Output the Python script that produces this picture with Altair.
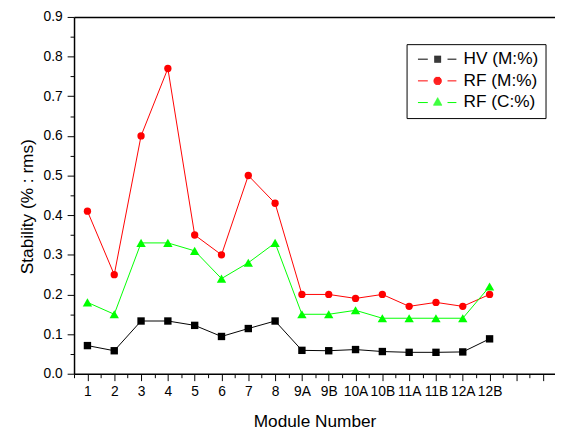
import math
import altair as alt
import pandas as pd

modules = ["1", "2", "3", "4", "5", "6", "7", "8", "9A", "9B",
           "10A", "10B", "11A", "11B", "12A", "12B"]
series_names = ["HV (M:%)", "RF (M:%)", "RF (C:%)"]
hv = [0.071, 0.058, 0.133, 0.133, 0.122, 0.094, 0.114, 0.133,
      0.059, 0.058, 0.061, 0.056, 0.054, 0.054, 0.055, 0.088]
rf_m = [0.41, 0.25, 0.60, 0.77, 0.35, 0.30, 0.50, 0.43,
        0.20, 0.20, 0.19, 0.20, 0.17, 0.18, 0.17, 0.20]
rf_c = [0.18, 0.15, 0.33, 0.33, 0.31, 0.24, 0.28, 0.33,
        0.15, 0.15, 0.16, 0.14, 0.14, 0.14, 0.14, 0.22]
y_major = [0, 0.1, 0.2, 0.3, 0.4, 0.5, 0.6, 0.7, 0.8, 0.9]
y_minor = [0.05, 0.15, 0.25, 0.35, 0.45, 0.55, 0.65, 0.75, 0.85]
x_major = list(range(1, 19))
x_minor = [i + 0.5 for i in range(0, 18)]

colors = ["#000000", "#ff0000", "#00ff00"]
shapes = ["square", "circle", "triangle-up"]
sizes = [56, 55, 90]


# legend glyphs: line stub - marker - line stub, drawn with strokes only
def _rows(y0, y1):
    out, y = [], y0
    while y <= y1 + 1e-9:
        out.append(round(y, 3))
        y += 0.2
    return out


def _glyph(kind):
    parts = ["M-4,0H-2", "M2,0H3.8"]
    if kind == "square":
        for y in _rows(-0.6, 0.6):
            parts.append("M-0.7,%gH0.7" % y)
    elif kind == "circle":
        r = 0.84
        for y in _rows(-0.7, 0.7):
            h = math.sqrt(max(r * r - y * y, 0.02))
            parts.append("M%g,%gH%g" % (-round(h, 3), y, round(h, 3)))
    else:
        top, bot, hw = -1.0, 0.7, 0.95
        for y in _rows(-0.9, 0.6):
            h = hw * (y + 0.1 - top) / (bot - top)
            parts.append("M%g,%gH%g" % (-round(h, 3), y, round(h, 3)))
    return "".join(parts)


legend_paths = [_glyph(s) for s in shapes]

rows = []
for name, vals in zip(series_names, [hv, rf_m, rf_c]):
    for i, (m, v) in enumerate(zip(modules, vals)):
        rows.append({"pos": i + 1, "module": m, "series": name, "value": v})
df = pd.DataFrame(rows)

FONT = "Liberation Sans"
label_js = "[" + ",".join("'%s'" % m for m in modules) + "]"

xscale = alt.Scale(domain=[0.5, 18.44], nice=False, zero=False)
yscale = alt.Scale(domain=[0, 0.9], nice=False)

base = alt.Chart(df)

leg = alt.Legend(title=None, orient="none", legendX=337.4, legendY=27.6,
                 padding=6.5, strokeColor="#000000", fillColor="#ffffff",
                 labelFont=FONT, labelFontSize=17.5, labelColor="#000000",
                 symbolSize=100, symbolStrokeWidth=1, symbolOpacity=1,
                 symbolOffset=16.3, labelOffset=17.5, rowPadding=3)

# invisible layer that only carries the legend and the top frame line
legend_layer = base.mark_point(filled=False, opacity=0, size=100, strokeWidth=1).encode(
    x=alt.X("pos:Q", scale=xscale, title=None,
            axis=alt.Axis(orient="top", labels=False, ticks=False, domain=True, grid=False)),
    y=alt.Y("value:Q", scale=yscale, axis=None),
    color=alt.Color("series:N", scale=alt.Scale(domain=series_names, range=colors), legend=leg),
    shape=alt.Shape("series:N", scale=alt.Scale(domain=series_names, range=legend_paths), legend=leg),
)

layers = [legend_layer]
for k, (name, col) in enumerate(zip(series_names, colors)):
    if k == 0:
        xenc = alt.X("pos:Q", scale=xscale, title="Module Number",
                     axis=alt.Axis(orient="bottom", values=x_major, tickSize=7,
                                   labelExpr="datum.value <= 16 ? " + label_js + "[datum.value-1] : ''",
                                   labelPadding=4, titlePadding=15, grid=False))
        yenc = alt.Y("value:Q", scale=yscale, title="Stability (% : rms)",
                     axis=alt.Axis(orient="left", values=y_major, format=".1f", tickSize=7,
                                   labelPadding=5, titlePadding=7, titleY=192, grid=False))
    else:
        xenc = alt.X("pos:Q", scale=xscale, axis=None)
        yenc = alt.Y("value:Q", scale=yscale, axis=None)
    layers.append(
        base.transform_filter(alt.datum.series == name)
        .mark_line(strokeWidth=1, color=col)
        .encode(x=xenc, y=yenc)
    )

for k, (name, shp, col, sz) in enumerate(zip(series_names, shapes, colors, sizes)):
    if k == 0:
        xenc = alt.X("pos:Q", scale=xscale, title=None,
                     axis=alt.Axis(orient="bottom", values=x_minor, tickSize=4,
                                   labels=False, domain=False, grid=False))
        yenc = alt.Y("value:Q", scale=yscale, title=None,
                     axis=alt.Axis(orient="left", values=y_minor, tickSize=4,
                                   labels=False, domain=False, grid=False))
    else:
        xenc = alt.X("pos:Q", scale=xscale, axis=None)
        yenc = alt.Y("value:Q", scale=yscale, axis=None)
    layers.append(
        base.transform_filter(alt.datum.series == name).mark_point(
            shape=shp, color=col, filled=True, size=sz, opacity=1
        ).encode(x=xenc, y=yenc)
    )

chart = alt.layer(*layers).resolve_axis(
    x="independent", y="independent"
).properties(
    width=488, height=362,
    autosize=alt.AutoSizeParams(type="none"),
    padding={"left": 67, "top": 6, "right": 0, "bottom": 54},
).configure_view(stroke=None).configure_axis(
    labelFont=FONT, labelFontSize=14, labelColor="#000000",
    titleFont=FONT, titleFontSize=17.5, titleFontWeight="normal", titleColor="#000000",
    tickColor="#000000", tickWidth=1, domainColor="#000000", domainWidth=1.5,
)

chart.save("out.html", embed_options={"renderer": "svg", "actions": False})
